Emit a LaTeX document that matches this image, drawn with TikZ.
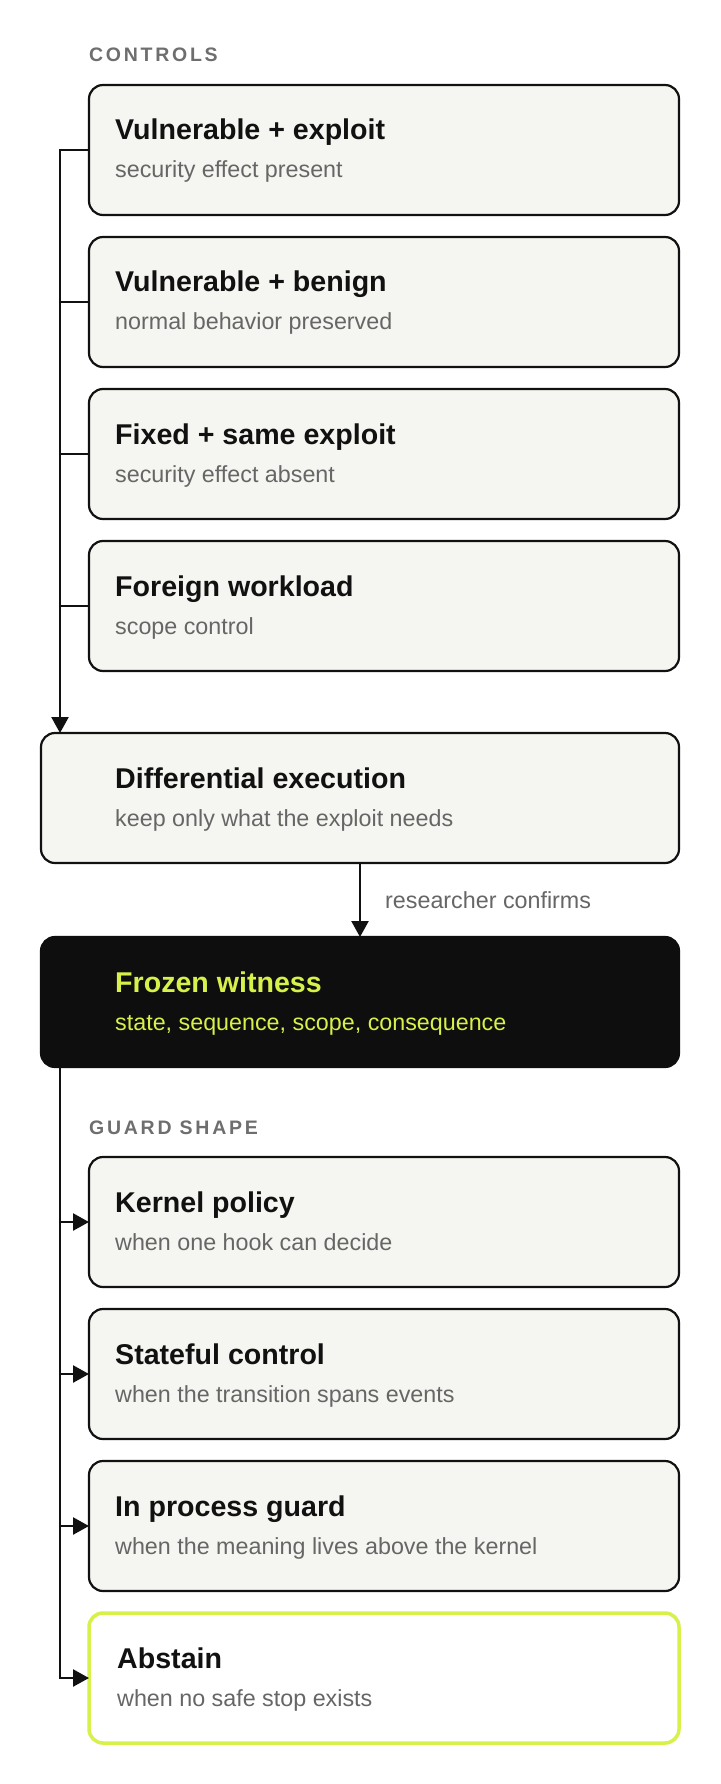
\documentclass[tikz,border=0pt]{standalone}
\usepackage{fontspec}
\setmainfont{Liberation Sans}
\newfontfamily\capfont[LetterSpace=14]{Liberation Sans}
\usetikzlibrary{arrows.meta,calc}
\definecolor{boxfill}{HTML}{F5F5F1}
\definecolor{ink}{HTML}{111111}
\definecolor{muted}{HTML}{666666}
\definecolor{capgray}{HTML}{6E6E6E}
\definecolor{lime}{HTML}{D8F04A}
\definecolor{night}{HTML}{0E0E0E}
\newcommand{\mytitle}{\fontsize{28.6}{32}\selectfont\bfseries}
\newcommand{\mysub}{\fontsize{23.3}{27}\selectfont}
\newcommand{\mycap}{\capfont\fontsize{19.5}{23}\selectfont\bfseries}
\begin{document}
\begin{tikzpicture}[x=1pt,y=-1pt,
  card/.style={draw=ink, line width=2.2pt, fill=boxfill, rounded corners=14pt,
    minimum width=590pt, minimum height=130pt, inner sep=0pt, outer sep=0pt, anchor=north west},
  widecard/.style={card, minimum width=638pt},
  darkcard/.style={widecard, draw=night, fill=night},
  abstaincard/.style={card, draw=lime, fill=white, line width=3.5pt},
  titletext/.style={anchor=base west, inner sep=0pt, text=ink, font=\mytitle},
  subtext/.style={anchor=base west, inner sep=0pt, text=muted, font=\mysub},
  captext/.style={anchor=base west, inner sep=0pt, text=capgray, font=\mycap},
  conn/.style={draw=ink, line width=2.4pt},
  arr/.style={conn, -{Triangle[length=16pt,width=17pt]}}
]
\useasboundingbox (0,0) rectangle (720,1784);
\fill[white] (0,0) rectangle (720,1784);

\coordinate (bus) at (60,0);

% section label
\node[captext] (capc) at (89,62) {CONTROLS};

% control cards
\node[card] (c1) at (89,85) {};
\node[card] (c2) at (89,237) {};
\node[card] (c3) at (89,389) {};
\node[card] (c4) at (89,541) {};

\node[titletext] (c1t) at ($(c1.north west)+(26,55)$) {Vulnerable + exploit};
\node[subtext]   (c1s) at ($(c1.north west)+(26,93)$) {security effect present};
\node[titletext] (c2t) at ($(c2.north west)+(26,55)$) {Vulnerable + benign};
\node[subtext]   (c2s) at ($(c2.north west)+(26,93)$) {normal behavior preserved};
\node[titletext] (c3t) at ($(c3.north west)+(26,55)$) {Fixed + same exploit};
\node[subtext]   (c3s) at ($(c3.north west)+(26,93)$) {security effect absent};
\node[titletext] (c4t) at ($(c4.north west)+(26,55)$) {Foreign workload};
\node[subtext]   (c4s) at ($(c4.north west)+(26,93)$) {scope control};

% differential execution
\node[widecard] (diff) at (41,733) {};
\node[titletext] (difft) at ($(diff.north west)+(74,55)$) {Differential execution};
\node[subtext]   (diffs) at ($(diff.north west)+(74,93)$) {keep only what the exploit needs};

% frozen witness
\node[darkcard] (frozen) at (41,937) {};
\node[titletext, text=lime] (frozt) at ($(frozen.north west)+(74,55)$) {Frozen witness};
\node[subtext, text=lime]   (frozs) at ($(frozen.north west)+(74,93)$) {state, sequence, scope, consequence};

% guard label
\node[captext] (capg) at (89,1134) {GUARD SHAPE};

% guard cards
\node[card] (g1) at (89,1157) {};
\node[card] (g2) at (89,1309) {};
\node[card] (g3) at (89,1461) {};
\node[abstaincard] (g4) at (89,1613) {};

\node[titletext] (g1t) at ($(g1.north west)+(26,55)$) {Kernel policy};
\node[subtext]   (g1s) at ($(g1.north west)+(26,93)$) {when one hook can decide};
\node[titletext] (g2t) at ($(g2.north west)+(26,55)$) {Stateful control};
\node[subtext]   (g2s) at ($(g2.north west)+(26,93)$) {when the transition spans events};
\node[titletext] (g3t) at ($(g3.north west)+(26,55)$) {In process guard};
\node[subtext]   (g3s) at ($(g3.north west)+(26,93)$) {when the meaning lives above the kernel};
\node[titletext] (g4t) at ($(g4.north west)+(28,55)$) {Abstain};
\node[subtext]   (g4s) at ($(g4.north west)+(28,93)$) {when no safe stop exists};

% top bus
\draw[arr] (c1.west) -- (c1.west -| bus) -- (bus |- diff.north);
\draw[conn] (c2.west) -- (c2.west -| bus);
\draw[conn] (c3.west) -- (c3.west -| bus);
\draw[conn] (c4.west) -- (c4.west -| bus);

% diff to frozen
\draw[arr] (diff.south) -- (frozen.north);
\node[subtext] (conf) at (385,908) {researcher confirms};

% bottom bus
\draw[arr] (bus |- frozen.south) -- (bus |- g4.west) -- (g4.west);
\draw[arr] (g1.west -| bus) -- (g1.west);
\draw[arr] (g2.west -| bus) -- (g2.west);
\draw[arr] (g3.west -| bus) -- (g3.west);
\end{tikzpicture}
\end{document}
